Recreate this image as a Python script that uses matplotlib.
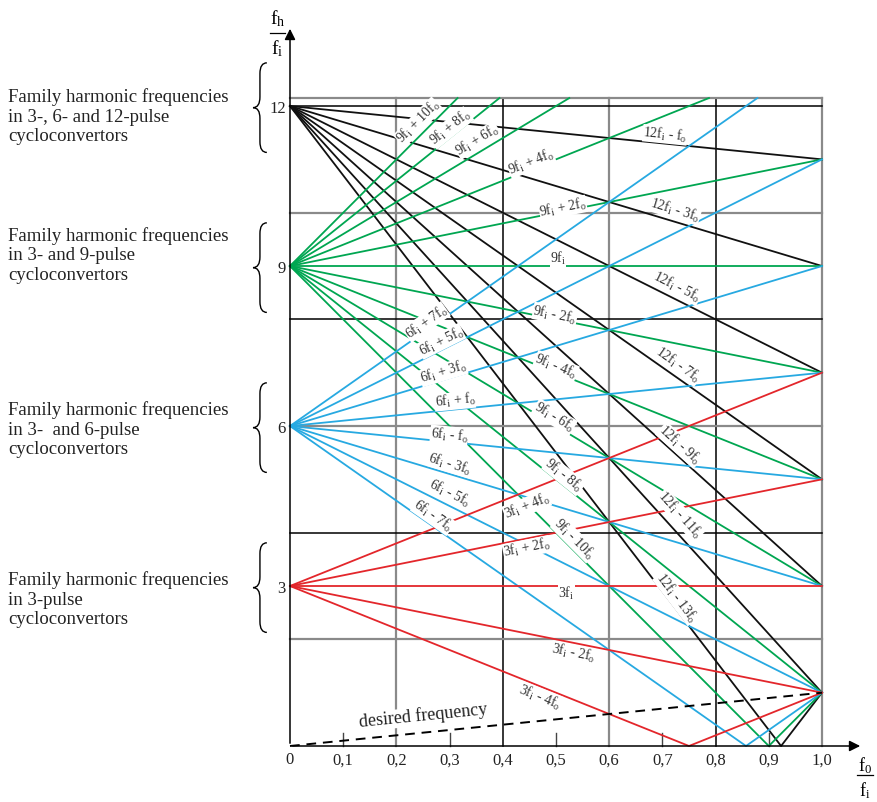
import numpy as np
import matplotlib.pyplot as plt
from matplotlib.path import Path
from matplotlib.patches import PathPatch

plt.rcParams['font.family'] = ['Liberation Serif', 'DejaVu Serif']
plt.rcParams['mathtext.fontset'] = 'custom'
plt.rcParams['mathtext.rm'] = 'Liberation Serif'
plt.rcParams['mathtext.it'] = 'Liberation Serif:italic'

# harmonic orders: fh/fi = base + k * fo/fi
black_base, black_orders = 12, [-1, -3, -5, -7, -9, -11, -13]
green_base, green_orders = 9, [10, 8, 6, 4, 2, 0, -2, -4, -6, -8, -10]
blue_base, blue_orders = 6, [7, 5, 3, 1, -1, -3, -5, -7]
red_base, red_orders = 3, [4, 2, 0, -2, -4]

x_ticks = [0, 0.1, 0.2, 0.3, 0.4, 0.5, 0.6, 0.7, 0.8, 0.9, 1.0]
x_tick_labels = ['0', '0,1', '0,2', '0,3', '0,4', '0,5', '0,6', '0,7', '0,8', '0,9', '1,0']
y_ticks = [3, 6, 9, 12]

family_text = [
    'Family harmonic frequencies\nin 3-, 6- and 12-pulse\ncycloconvertors',
    'Family harmonic frequencies\nin 3- and 9-pulse\ncycloconvertors',
    'Family harmonic frequencies\nin 3-  and 6-pulse\ncycloconvertors',
    'Family harmonic frequencies\nin 3-pulse\ncycloconvertors',
]

# label placement (base, k, x, y)
labels = [
    (9, 10, 0.241, 11.70), (9, 8, 0.301, 11.59), (9, 6, 0.352, 11.36),
    (9, 4, 0.453, 10.95), (9, 2, 0.513, 10.09), (12, -1, 0.705, 11.46),
    (12, -3, 0.724, 10.05), (9, 0, 0.504, 9.15), (12, -5, 0.727, 8.61),
    (9, -2, 0.498, 8.09), (12, -7, 0.729, 7.14), (9, -4, 0.5, 7.12),
    (9, -6, 0.497, 6.17), (12, -9, 0.733, 5.64), (9, -8, 0.515, 5.07),
    (12, -11, 0.733, 4.33), (9, -10, 0.534, 3.88), (12, -13, 0.727, 2.78),
    (6, 7, 0.256, 7.95), (6, 5, 0.284, 7.59), (6, 3, 0.288, 7.01),
    (6, 1, 0.310, 6.47), (6, -1, 0.299, 5.83), (6, -3, 0.301, 5.29),
    (6, -5, 0.301, 4.73), (6, -7, 0.269, 4.31), (3, 4, 0.445, 4.50),
    (3, 2, 0.445, 3.71), (3, 0, 0.52, 2.86), (3, -2, 0.532, 1.74),
    (3, -4, 0.470, 0.92),
]

TOP = 12.15
XS, YS = 532.0, 53.33  # pixels per data unit

fig = plt.figure(figsize=(8.77, 8.02), dpi=100)
ax = fig.add_axes([0, 0, 1, 1])
ax.set_xlim(-290 / XS, 587 / XS)
ax.set_ylim(-56 / YS, 746 / YS)
ax.axis('off')

gray = '#8a8a8a'
# grid
for i, x in enumerate([0.2, 0.4, 0.6, 0.8, 1.0]):
    c = gray if i % 2 == 0 else 'black'
    ax.plot([x, x], [0, TOP], color=c, lw=1.6 if c == gray else 1.1, zorder=1)
for i, y in enumerate([2, 4, 6, 8, 10, 12]):
    c = gray if i % 2 == 0 else 'black'
    ax.plot([0, 1], [y, y], color=c, lw=1.6 if c == gray else 1.1, zorder=1)
ax.plot([0, 1], [TOP, TOP], color=gray, lw=1.6, zorder=1)

# axes with arrows
ax.annotate('', xy=(0, 13.5), xytext=(0, 0),
            arrowprops=dict(arrowstyle='-|>', color='black', lw=1.1, mutation_scale=16))
ax.annotate('', xy=(1.077, 0), xytext=(0, 0),
            arrowprops=dict(arrowstyle='-|>', color='black', lw=1.1, mutation_scale=16))
for x in [0.1, 0.3, 0.5, 0.7, 0.9]:
    ax.plot([x, x], [0, 0.25], color='#444444', lw=1.0, zorder=1)


def harmonic(base, k):
    if k > 0:
        xs = [0, min(1.0, (TOP - base) / k)]
    elif k < 0 and base / -k < 1:
        xs = [0, base / -k, 1.0]
    else:
        xs = [0, 1.0]
    xs = np.array(xs)
    return xs, np.abs(base + k * xs)


for base, orders, color in [(black_base, black_orders, '#111111'),
                            (green_base, green_orders, '#00a651'),
                            (blue_base, blue_orders, '#27a9e1'),
                            (red_base, red_orders, '#e3262b')]:
    for k in orders:
        xs, ys = harmonic(base, k)
        ax.plot(xs, ys, color=color, lw=1.3, zorder=2)

# desired frequency
ax.plot([0, 1], [0, 1], color='black', lw=1.4, ls=(0, (5, 3.5)), zorder=2)
ax.text(0.25, 0.56, 'desired frequency', fontsize=13, color='#222222',
        rotation=np.degrees(np.arctan(YS / XS)), ha='center', va='center',
        rotation_mode='anchor', zorder=4,
        bbox=dict(facecolor='white', edgecolor='none', pad=0.3))


def label_text(base, k):
    if k == 0:
        return '%df$_\\mathrm{i}$' % base
    sign = '+' if k > 0 else '-'
    coef = '' if abs(k) == 1 else str(abs(k))
    return '%df$_\\mathrm{i}$ %s %sf$_\\mathrm{o}$' % (base, sign, coef)


for base, k, x, y in labels:
    rot = np.degrees(np.arctan(k * YS / XS))
    ax.text(x, y, label_text(base, k), fontsize=10, rotation=rot,
            ha='center', va='center', rotation_mode='anchor', zorder=4,
            color='#333333',
            bbox=dict(facecolor='white', edgecolor='none', pad=0.1))

# tick labels
for x, s in zip(x_ticks, x_tick_labels):
    ax.text(x, -0.27, s, fontsize=12, ha='center', va='center', color='#222222')
for y in y_ticks:
    ax.text(-0.008, y - 0.06, str(y), fontsize=12, ha='right', va='center', color='#222222')

# axis titles as fractions
ax.text(-0.024, 13.63, 'f$_\\mathrm{h}$', fontsize=14, ha='center', va='center')
ax.plot([-0.038, -0.009], [13.37, 13.37], color='black', lw=0.9)
ax.text(-0.024, 13.08, 'f$_\\mathrm{i}$', fontsize=14, ha='center', va='center')
ax.text(1.08, -0.36, 'f$_\\mathrm{0}$', fontsize=13, ha='center', va='center')
ax.plot([1.066, 1.096], [-0.55, -0.55], color='black', lw=0.9)
ax.text(1.08, -0.83, 'f$_\\mathrm{i}$', fontsize=13, ha='center', va='center')


# family braces and texts
def brace(yc, half, x_tip=-0.0695, x_mid=-0.0565, x_end=-0.0435, r=0.2):
    verts = [(x_end, yc + half), (x_mid, yc + half), (x_mid, yc + half - r),
             (x_mid, yc + r), (x_mid, yc), (x_tip, yc),
             (x_mid, yc), (x_mid, yc - r),
             (x_mid, yc - half + r), (x_mid, yc - half), (x_end, yc - half)]
    codes = [Path.MOVETO, Path.CURVE3, Path.CURVE3, Path.LINETO, Path.CURVE3, Path.CURVE3,
             Path.CURVE3, Path.CURVE3, Path.LINETO, Path.CURVE3, Path.CURVE3]
    ax.add_patch(PathPatch(Path(verts, codes), facecolor='none', edgecolor='black', lw=1.0))


for y, txt, ty in zip(y_ticks[::-1], family_text, [11.8, 9.2, 5.93, 2.74]):
    brace(y - 0.03, 0.84)
    ax.text(-0.53, ty, txt, fontsize=13.5, ha='left', va='center', linespacing=1.2,
            color='#222222')

fig.savefig('out.png', dpi=100)
